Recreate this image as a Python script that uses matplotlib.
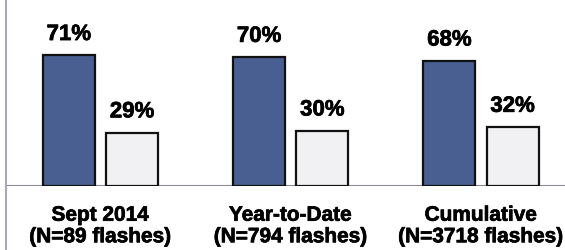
import matplotlib.pyplot as plt
import matplotlib.patheffects as pe
from matplotlib.lines import Line2D

plt.rcParams['font.family'] = ['Liberation Sans', 'DejaVu Sans']
plt.rcParams['font.weight'] = 'bold'

# data
groups = ['Sept 2014', 'Year-to-Date', 'Cumulative']
counts = ['(N=89 flashes)', '(N=794 flashes)', '(N=3718 flashes)']
first_pct = [71, 70, 68]
second_pct = [29, 30, 32]

dark = '#4a5f91'
light = '#f1f1f3'
heavy = [pe.withStroke(linewidth=0.5, foreground='black')]

fig = plt.figure(figsize=(5.65, 2.51), dpi=100)
ax = fig.add_axes([6 / 565, 64 / 251, 559 / 565, 187 / 251])

x = list(range(len(groups)))
w = 0.273
off = 0.166
ax.bar([i - off for i in x], first_pct, w, color=dark, edgecolor='#111111', linewidth=1.6)
ax.bar([i + off for i in x], second_pct, w, color=light, edgecolor='#111111', linewidth=1.6)

for i in x:
    ax.annotate(f'{first_pct[i]}%', (i - off, first_pct[i]), xytext=(0, 11), textcoords='offset points',
                ha='center', va='baseline', fontsize=16, fontweight='bold', path_effects=heavy)
    ax.annotate(f'{second_pct[i]}%', (i + off, second_pct[i]), xytext=(0, 11), textcoords='offset points',
                ha='center', va='baseline', fontsize=16, fontweight='bold', path_effects=heavy)
    ax.annotate(groups[i], (i, 0), xytext=(0, -25), textcoords='offset points',
                ha='center', va='baseline', fontsize=15, fontweight='bold', path_effects=heavy)
    ax.annotate(counts[i], (i, 0), xytext=(0, -40.5), textcoords='offset points',
                ha='center', va='baseline', fontsize=15, fontweight='bold', path_effects=heavy,
                annotation_clip=False)

ax.set_xlim(-0.4967, 2.4415)
ax.set_ylim(0, 101.6)
ax.axhline(0, color='#8a8a98', linewidth=1.5, zorder=0)
for s in ax.spines.values():
    s.set_visible(False)
ax.set_xticks([])
ax.set_yticks([])

# gray frame line on the left, full height
fig.add_artist(Line2D([6 / 565, 6 / 565], [0, 1], transform=fig.transFigure, color='#a8a8b6', linewidth=1.5))

fig.savefig('out.png', dpi=100)
